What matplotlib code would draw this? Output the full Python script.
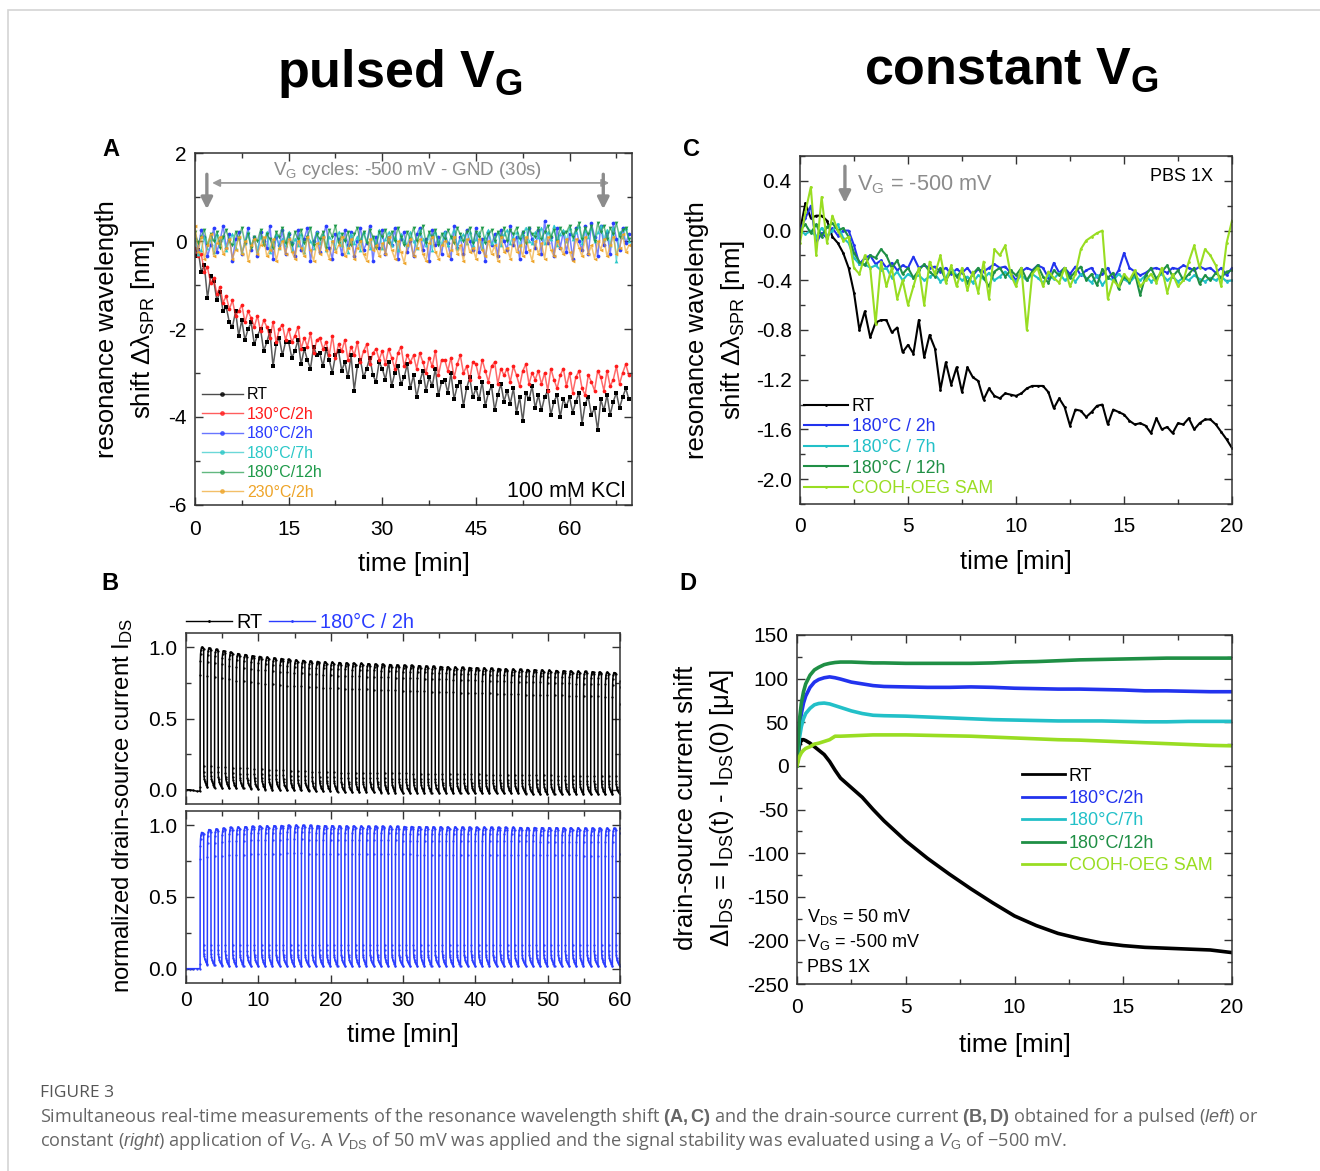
import numpy as np
import matplotlib
matplotlib.use('Agg')
import matplotlib.pyplot as plt
from matplotlib.lines import Line2D
from matplotlib.patches import Rectangle
from matplotlib.ticker import MultipleLocator, FormatStrFormatter

plt.rcParams['font.family'] = ['Liberation Sans', 'DejaVu Sans']
plt.rcParams['mathtext.fontset'] = 'custom'
plt.rcParams['mathtext.rm'] = 'Liberation Sans'
plt.rcParams['mathtext.it'] = 'Liberation Sans:italic'
plt.rcParams['mathtext.bf'] = 'Liberation Sans:bold'
plt.rcParams['axes.unicode_minus'] = False

# ---------------- panel A: SPR shift, pulsed VG (one value every 0.5 min) ----------------
a_time = np.arange(140) * 0.5
a_rt = [-0.35, -0.2, -0.7, -0.55, -1.3, -0.8, -0.9, -1.35, -1.15, -1.6,
        -1.5, -1.85, -1.95, -1.6, -2.15, -1.8, -2.25, -2.0, -1.85, -2.35,
        -2.15, -2.0, -2.5, -2.3, -2.05, -2.85, -2.35, -2.2, -2.6, -2.3,
        -2.3, -2.65, -2.5, -2.25, -2.8, -2.45, -2.7, -2.9, -2.4, -2.6,
        -2.55, -2.85, -2.45, -2.7, -3.0, -2.6, -2.5, -2.95, -2.75, -3.1,
        -2.6, -3.4, -2.85, -2.7, -3.1, -2.9, -2.65, -3.05, -3.2, -2.75,
        -2.9, -3.15, -2.75, -3.3, -3.0, -2.85, -3.25, -3.1, -2.8, -3.35,
        -3.05, -3.55, -3.2, -2.95, -3.4, -3.1, -3.3, -2.9, -3.5, -3.2,
        -3.15, -3.45, -3.0, -3.6, -3.3, -3.2, -3.75, -3.35, -3.1, -3.55,
        -3.35, -3.6, -3.2, -3.75, -3.45, -3.3, -3.85, -3.5, -3.25, -3.65,
        -3.4, -3.7, -3.35, -3.9, -3.55, -4.1, -3.45, -3.6, -3.3, -3.8,
        -3.5, -3.85, -3.55, -3.4, -3.95, -3.65, -3.5, -4.0, -3.6, -3.75,
        -3.55, -3.9, -3.65, -3.45, -4.15, -3.7, -3.55, -3.95, -3.8, -4.3,
        -3.6, -3.85, -3.5, -3.95, -3.65, -3.45, -3.8, -3.55, -3.35, -3.6]
a_130 = [-0.15, -0.35, -0.3, -0.7, -0.6, -0.95, -0.85, -1.2, -1.05, -1.4,
         -1.25, -1.55, -1.35, -1.7, -1.6, -1.45, -1.85, -1.6, -1.75, -1.95,
         -1.7, -2.05, -1.8, -1.95, -2.2, -1.85, -2.3, -2.0, -1.9, -2.25,
         -2.0, -2.3, -2.15, -1.95, -2.45, -2.2, -2.4, -2.1, -2.55, -2.25,
         -2.2, -2.45, -2.3, -2.6, -2.15, -2.65, -2.35, -2.5, -2.25, -2.7,
         -2.4, -2.6, -2.3, -2.75, -2.5, -2.35, -2.8, -2.55, -2.45, -2.7,
         -2.5, -2.8, -2.45, -2.65, -2.9, -2.55, -2.4, -2.85, -2.6, -2.75,
         -2.6, -2.9, -2.55, -2.75, -3.0, -2.65, -2.85, -2.5, -3.05, -2.7,
         -2.7, -2.95, -2.65, -3.1, -2.8, -2.6, -3.0, -2.85, -3.15, -2.75,
         -2.8, -3.1, -2.7, -2.95, -3.2, -2.85, -2.75, -3.25, -2.9, -3.05,
         -2.9, -3.2, -2.85, -3.05, -3.3, -2.95, -2.8, -3.25, -3.0, -3.15,
         -2.95, -3.25, -3.0, -3.4, -2.9, -3.15, -3.35, -3.05, -2.9, -3.3,
         -3.0, -3.45, -3.1, -2.95, -3.35, -3.5, -3.05, -3.2, -3.4, -2.95,
         -3.1, -3.4, -2.95, -3.3, -3.15, -2.85, -3.25, -3.0, -2.8, -3.05]
a_180_2h = [0.05, -0.2, 0.25, 0.1, -0.35, -0.1, 0.3, -0.25, 0.0, 0.35,
            -0.15, 0.15, -0.45, 0.05, 0.2, -0.3, -0.05, 0.3, -0.2, 0.1,
            -0.35, 0.2, 0.0, -0.15, 0.35, -0.4, 0.1, -0.1, 0.25, -0.3,
            0.15, -0.05, -0.35, 0.25, -0.2, 0.05, 0.3, -0.45, 0.0, 0.2,
            -0.25, 0.1, 0.35, -0.15, -0.4, 0.15, 0.05, -0.3, 0.25, -0.1,
            0.2, -0.35, 0.0, 0.3, -0.2, -0.05, 0.35, -0.45, 0.1, -0.15,
            0.25, -0.3, 0.1, -0.1, 0.3, -0.4, 0.05, 0.2, -0.25, 0.0,
            -0.35, 0.15, 0.3, -0.2, 0.05, -0.45, 0.25, -0.1, 0.1, -0.3,
            0.2, -0.05, -0.4, 0.35, -0.15, 0.1, -0.3, 0.25, 0.0, -0.2,
            0.3, -0.25, 0.05, -0.45, 0.2, -0.1, 0.15, -0.35, 0.25, 0.0,
            -0.2, 0.35, -0.1, 0.1, -0.4, 0.2, -0.25, 0.3, 0.05, -0.15,
            0.25, -0.3, 0.45, -0.05, 0.1, -0.35, 0.3, -0.15, 0.2, -0.25,
            0.15, -0.4, 0.3, 0.0, -0.2, 0.35, -0.3, 0.4, 0.1, -0.35,
            0.35, -0.1, 0.2, -0.3, 0.4, 0.05, -0.2, 0.3, -0.05, 0.15]
a_180_7h = [0.05, -0.3, -0.2, 0.1, -0.15, 0.05, -0.25, 0.15, -0.05, 0.1,
            -0.2, 0.0, 0.15, -0.15, 0.1, -0.25, -0.05, 0.2, -0.1, 0.05,
            -0.2, 0.1, -0.05, 0.2, -0.25, 0.0, 0.15, -0.15, 0.05, -0.1,
            0.2, -0.2, 0.05, -0.1, 0.15, -0.25, 0.1, 0.0, -0.15, 0.2,
            -0.05, 0.15, -0.2, 0.1, 0.0, -0.15, 0.2, -0.1, 0.05, -0.25,
            0.15, -0.05, 0.1, -0.2, 0.2, 0.0, -0.15, 0.1, -0.1, 0.25,
            -0.15, 0.05, 0.2, -0.1, 0.1, -0.2, 0.15, 0.0, -0.1, 0.2,
            0.0, -0.15, 0.25, 0.05, -0.1, 0.15, -0.2, 0.2, 0.0, -0.05,
            0.2, -0.1, 0.1, 0.25, -0.15, 0.05, 0.15, -0.05, 0.2, -0.1,
            0.05, 0.2, -0.15, 0.1, 0.25, -0.05, 0.0, 0.2, -0.1, 0.15,
            0.25, -0.05, 0.1, 0.2, -0.1, 0.15, 0.3, 0.0, -0.05, 0.2,
            0.1, 0.3, -0.05, 0.2, 0.05, 0.35, -0.1, 0.15, 0.25, 0.0,
            0.3, 0.05, 0.2, 0.35, -0.05, 0.25, 0.1, 0.3, 0.0, 0.2,
            0.35, 0.05, 0.25, -0.1, 0.3, -0.45, 0.2, 0.1, 0.3, 0.0]
a_180_12h = [0.2, -0.05, 0.1, 0.25, -0.1, 0.15, 0.0, 0.2, -0.15, 0.1,
             0.25, 0.0, -0.1, 0.2, 0.05, 0.3, -0.05, 0.15, -0.15, 0.1,
             0.0, 0.25, -0.1, 0.15, 0.05, -0.15, 0.2, 0.1, 0.3, -0.05,
             0.15, -0.1, 0.2, 0.05, 0.25, -0.05, 0.1, 0.3, -0.1, 0.15,
             0.05, 0.2, -0.15, 0.25, 0.1, 0.35, -0.05, 0.15, 0.0, 0.2,
             -0.1, 0.15, 0.3, 0.0, 0.2, -0.05, 0.25, 0.1, -0.15, 0.2,
             0.1, 0.25, -0.05, 0.2, 0.0, 0.3, 0.1, -0.1, 0.2, 0.05,
             0.3, 0.0, 0.15, 0.35, -0.05, 0.2, 0.1, 0.25, -0.1, 0.15,
             0.05, 0.25, 0.1, -0.05, 0.3, 0.15, 0.0, 0.2, 0.3, -0.05,
             0.2, 0.1, 0.3, -0.05, 0.15, 0.25, 0.0, 0.2, 0.1, 0.3,
             0.0, 0.25, 0.15, 0.3, 0.05, 0.2, -0.05, 0.3, 0.15, 0.1,
             0.3, 0.05, 0.2, 0.35, 0.1, 0.25, 0.0, 0.3, 0.15, 0.2,
             0.35, 0.1, 0.25, 0.4, 0.05, 0.3, 0.15, 0.35, 0.0, 0.4,
             0.2, 0.35, 0.05, 0.3, 0.15, 0.4, 0.1, 0.25, 0.3, 0.05]
a_230_2h = [0.35, -0.25, 0.1, -0.4, -0.1, 0.15, -0.35, -0.05, 0.1, -0.3,
            -0.15, 0.05, -0.4, -0.2, 0.1, -0.3, 0.0, -0.45, -0.1, 0.05,
            -0.3, -0.1, 0.1, -0.35, -0.2, 0.05, -0.45, -0.15, 0.0, -0.3,
            0.05, -0.25, -0.4, 0.0, -0.15, -0.35, 0.1, -0.2, -0.45, -0.05,
            -0.3, 0.1, -0.2, -0.4, 0.0, -0.25, -0.1, 0.1, -0.35, -0.15,
            0.05, -0.4, -0.15, 0.0, -0.3, -0.45, 0.05, -0.2, -0.1, -0.35,
            -0.05, -0.3, 0.1, -0.2, -0.4, 0.0, -0.25, -0.5, -0.1, 0.05,
            -0.35, -0.15, 0.05, -0.3, -0.45, -0.05, 0.1, -0.25, -0.4, -0.1,
            0.0, -0.35, -0.2, 0.1, -0.3, -0.1, -0.45, 0.05, -0.25, -0.15,
            -0.4, 0.05, -0.2, -0.35, 0.0, -0.3, -0.1, -0.45, 0.1, -0.25,
            -0.15, -0.4, 0.05, -0.25, -0.1, -0.35, 0.1, -0.2, -0.45, 0.0,
            -0.3, -0.05, -0.4, 0.1, -0.2, -0.35, 0.0, -0.15, -0.3, 0.05,
            -0.25, -0.45, 0.05, -0.15, -0.35, 0.1, -0.3, -0.1, -0.4, 0.0,
            -0.2, 0.05, -0.35, -0.1, 0.1, -0.3, -0.15, 0.15, -0.25, -0.1]
a_labels = ['RT', '130°C/2h', '180°C/2h', '180°C/7h', '180°C/12h', '230°C/2h']
a_colors = ['#000000', '#ff1a1a', '#2a3cff', '#2cc8c8', '#1f9a4a', '#eea428']
a_markers = ['s', 'o', 'o', '^', 'v', '<']

# ---------------- panel B: normalized IDS, one pulse per minute ----------------
b_first_pulse = 1.95
b_pre_t = [0.0, 0.5, 1.0, 1.5, 1.94]
b_pre_rt = [0.0, 0.0, -0.005, -0.01, -0.01]
b_pre_180 = [0.0, 0.0, 0.0, 0.0, 0.0]
# shape of one cycle (fraction between base and peak)
pulse_dt = [0.0, 0.01, 0.03, 0.06, 0.12, 0.2, 0.3, 0.4, 0.49,
            0.5, 0.51, 0.53, 0.57, 0.65, 0.75, 0.85, 0.99]
pulse_shape = [0.0, 0.80, 0.90, 0.95, 0.98, 1.0, 1.0, 0.995, 0.985,
               0.15, 0.11, 0.08, 0.06, 0.04, 0.025, 0.015, 0.0]
b_peak_rt = [1.0, 0.995, 0.985, 0.975, 0.965, 0.955, 0.948, 0.94, 0.935, 0.93,
             0.925, 0.92, 0.915, 0.91, 0.907, 0.903, 0.9, 0.897, 0.894, 0.892,
             0.89, 0.888, 0.886, 0.884, 0.882, 0.88, 0.878, 0.876, 0.874, 0.872,
             0.87, 0.868, 0.866, 0.864, 0.862, 0.86, 0.858, 0.857, 0.856, 0.854,
             0.852, 0.85, 0.848, 0.846, 0.845, 0.843, 0.842, 0.84, 0.838, 0.836,
             0.835, 0.833, 0.831, 0.83, 0.828, 0.826, 0.824, 0.822]
b_base_rt = [0.02, 0.02, 0.015, 0.015, 0.01, 0.01, 0.01, 0.005, 0.005, 0.0,
             0.0, 0.0, -0.005, -0.005, -0.005, -0.01, -0.01, -0.01, -0.01, -0.015,
             -0.015, -0.015, -0.015, -0.015, -0.015, -0.02, -0.02, -0.02, -0.02, -0.02,
             -0.02, -0.02, -0.02, -0.02, -0.02, -0.025, -0.025, -0.025, -0.025, -0.025,
             -0.025, -0.025, -0.025, -0.025, -0.025, -0.03, -0.03, -0.03, -0.03, -0.03,
             -0.03, -0.03, -0.03, -0.03, -0.03, -0.03, -0.03, -0.03]
b_peak_180 = [0.95, 0.97, 0.975, 0.98, 0.985, 0.988, 0.99, 0.992, 0.994, 0.996,
              0.997, 0.998, 1.0, 1.0, 1.0, 0.999, 0.998, 0.997, 0.997, 0.996,
              0.995, 0.995, 0.994, 0.994, 0.993, 0.993, 0.992, 0.992, 0.991, 0.991,
              0.99, 0.99, 0.989, 0.989, 0.988, 0.988, 0.987, 0.987, 0.986, 0.986,
              0.986, 0.985, 0.985, 0.985, 0.984, 0.984, 0.984, 0.983, 0.983, 0.983,
              0.982, 0.982, 0.982, 0.981, 0.981, 0.98, 0.98, 0.98]
b_base_180 = [0.03, 0.025, 0.025, 0.02, 0.02, 0.02, 0.02, 0.02, 0.02, 0.02,
              0.02, 0.02, 0.02, 0.02, 0.02, 0.02, 0.02, 0.02, 0.02, 0.02,
              0.02, 0.02, 0.02, 0.02, 0.02, 0.02, 0.02, 0.02, 0.02, 0.02,
              0.02, 0.02, 0.02, 0.02, 0.02, 0.02, 0.02, 0.02, 0.02, 0.02,
              0.02, 0.02, 0.02, 0.02, 0.02, 0.02, 0.02, 0.02, 0.02, 0.02,
              0.02, 0.02, 0.02, 0.02, 0.02, 0.02, 0.02, 0.02]
b_end_t = [59.96, 59.98, 60.0]
b_end_rt = [0.6, 0.72, 0.76]
b_end_180 = [0.8, 0.95, 0.98]

# ---------------- panel C: SPR shift, constant VG (one value every 0.25 min) ----------------
c_time = np.arange(81) * 0.25
c_rt = [0.0, 0.22, 0.1, 0.12, 0.12, 0.08, -0.05, -0.1, -0.18, -0.3,
        -0.5, -0.8, -0.65, -0.86, -0.74, -0.72, -0.72, -0.82, -0.78, -0.98,
        -0.92, -0.99, -0.72, -1.02, -0.84, -0.95, -1.28, -1.06, -1.24, -1.1,
        -1.3, -1.1, -1.18, -1.21, -1.36, -1.27, -1.33, -1.35, -1.31, -1.32,
        -1.33, -1.31, -1.27, -1.25, -1.25, -1.25, -1.3, -1.43, -1.35, -1.42,
        -1.57, -1.44, -1.45, -1.5, -1.46, -1.41, -1.4, -1.56, -1.44, -1.46,
        -1.48, -1.53, -1.56, -1.55, -1.57, -1.63, -1.51, -1.6, -1.58, -1.63,
        -1.55, -1.56, -1.51, -1.6, -1.55, -1.52, -1.52, -1.56, -1.62, -1.68,
        -1.75]
c_180_2h = [0.0, 0.1, 0.2, -0.1, -0.02, -0.06, 0.02, -0.04, 0.0, 0.0,
            -0.12, -0.27, -0.22, -0.2, -0.27, -0.24, -0.3, -0.26, -0.32, -0.28,
            -0.3, -0.21, -0.3, -0.28, -0.3, -0.29, -0.33, -0.3, -0.35, -0.31,
            -0.34, -0.3, -0.36, -0.31, -0.33, -0.3, -0.27, -0.3, -0.29, -0.34,
            -0.4, -0.33, -0.3, -0.32, -0.28, -0.3, -0.38, -0.26, -0.34, -0.3,
            -0.35, -0.29, -0.36, -0.32, -0.3, -0.37, -0.35, -0.3, -0.39, -0.32,
            -0.18, -0.3, -0.33, -0.36, -0.34, -0.31, -0.3, -0.32, -0.34, -0.3,
            -0.31, -0.28, -0.3, -0.32, -0.29, -0.31, -0.3, -0.34, -0.3, -0.36,
            -0.3]
c_180_7h = [0.0, -0.03, 0.0, -0.05, 0.02, -0.04, 0.0, 0.05, -0.06, -0.1,
            -0.22, -0.27, -0.27, -0.3, -0.28, -0.32, -0.3, -0.38, -0.33, -0.4,
            -0.35, -0.38, -0.36, -0.4, -0.37, -0.35, -0.41, -0.38, -0.3, -0.36,
            -0.4, -0.37, -0.42, -0.36, -0.39, -0.34, -0.4, -0.37, -0.33, -0.38,
            -0.41, -0.36, -0.4, -0.35, -0.38, -0.42, -0.36, -0.39, -0.34, -0.4,
            -0.37, -0.41, -0.35, -0.38, -0.42, -0.36, -0.44, -0.38, -0.4, -0.35,
            -0.39, -0.42, -0.37, -0.4, -0.36, -0.41, -0.38, -0.35, -0.4, -0.37,
            -0.41, -0.38, -0.4, -0.36, -0.39, -0.41, -0.38, -0.4, -0.37, -0.41,
            -0.4]
c_180_12h = [0.0, 0.05, -0.02, 0.05, -0.05, 0.03, 0.06, 0.0, 0.02, -0.05,
             -0.18, -0.25, -0.28, -0.2, -0.22, -0.15, -0.2, -0.3, -0.24, -0.35,
             -0.3, -0.38, -0.32, -0.27, -0.33, -0.37, -0.3, -0.4, -0.33, -0.37,
             -0.32, -0.42, -0.35, -0.3, -0.38, -0.45, -0.33, -0.3, -0.37, -0.32,
             -0.36, -0.3, -0.4, -0.33, -0.28, -0.37, -0.42, -0.32, -0.36, -0.3,
             -0.38, -0.33, -0.29, -0.4, -0.35, -0.44, -0.31, -0.38, -0.34, -0.47,
             -0.37, -0.41, -0.34, -0.52, -0.36, -0.3, -0.39, -0.33, -0.28, -0.37,
             -0.32, -0.4, -0.35, -0.3, -0.43, -0.36, -0.4, -0.34, -0.38, -0.33,
             -0.32]
c_sam = [-0.1, 0.15, 0.35, -0.2, 0.27, -0.1, 0.12, 0.0, -0.08, -0.05,
         -0.3, -0.35, -0.2, -0.3, -0.75, -0.25, -0.45, -0.3, -0.55, -0.4,
         -0.6, -0.45, -0.3, -0.6, -0.25, -0.35, -0.2, -0.42, -0.28, -0.45,
         -0.3, -0.48, -0.33, -0.5, -0.25, -0.55, -0.15, -0.2, -0.12, -0.35,
         -0.45, -0.3, -0.8, -0.35, -0.3, -0.45, -0.33, -0.38, -0.42, -0.3,
         -0.45, -0.35, -0.15, -0.08, -0.05, -0.02, 0.0, -0.55, -0.4, -0.45,
         -0.35, -0.4, -0.32, -0.45, -0.4, -0.35, -0.42, -0.3, -0.5, -0.35,
         -0.45, -0.4, -0.25, -0.12, -0.3, -0.15, -0.2, -0.28, -0.45, -0.1,
         0.08]
c_labels = ['RT', '180°C / 2h', '180°C / 7h', '180°C / 12h', 'COOH-OEG SAM']
cd_colors = ['#000000', '#2233ee', '#22c0c8', '#1f8f45', '#99dd22']

# ---------------- panel D: drain-source current shift, constant VG ----------------
d_time = [0, 0.1, 0.2, 0.3, 0.4, 0.6, 0.8, 1.0, 1.25, 1.5, 1.75, 2.0, 2.5, 3.0, 3.5, 4.0,
          5, 6, 7, 8, 9, 10, 11, 12, 13, 14, 15, 16, 17, 18, 19, 20]
d_rt = [0, 22, 30, 30, 29, 26, 22, 18, 13, 5, -5, -14, -25, -36, -50, -63,
        -86, -106, -124, -141, -157, -172, -183, -192, -198, -203, -206, -208, -209, -210, -211, -214]
d_180_2h = [0, 40, 60, 72, 80, 90, 96, 99, 101, 102, 101, 99.5, 96, 94, 92, 91,
            90.5, 90, 90, 90.5, 90, 89, 88.5, 88, 88, 87.5, 87, 86, 86, 85.5, 85, 85]
d_180_7h = [0, 30, 45, 54, 60, 66, 70, 71.5, 72, 71, 69, 67, 63, 60, 58, 57.5,
            57, 56, 55, 54, 53, 52.5, 52, 51.5, 51.5, 51.5, 51, 50.5, 50.5, 51, 51, 51]
d_180_12h = [0, 50, 72, 85, 94, 104, 110, 113, 116, 117.5, 118.5, 119, 119, 118.5, 118, 118,
             117.5, 117.5, 117.5, 117.5, 118, 119, 119.5, 120.5, 121.5, 122, 122.5, 123, 123.5, 123.5, 123.5, 123.5]
d_sam = [0, 10, 15, 18, 20, 22, 25, 26, 28, 30, 34, 34, 34.5, 35, 35.5, 35.5,
         35.5, 35, 34.5, 34, 33, 32, 31, 30, 29.5, 28.5, 27.5, 26.5, 25.5, 24.5, 23.5, 23]
d_labels = ['RT', '180°C/2h', '180°C/7h', '180°C/12h', 'COOH-OEG SAM']

GRAY = '#8c8c8c'
W, H = 1320, 1171
fig = plt.figure(figsize=(W / 100, H / 100), dpi=100)


def add_ax(l, t, r, b):
    return fig.add_axes([l / W, 1 - b / H, (r - l) / W, (b - t) / H])


def style(ax, xmaj, xmin, ymaj, ymin, xpad=6):
    ax.xaxis.set_major_locator(MultipleLocator(xmaj))
    ax.xaxis.set_minor_locator(MultipleLocator(xmin))
    ax.yaxis.set_major_locator(MultipleLocator(ymaj))
    ax.yaxis.set_minor_locator(MultipleLocator(ymin))
    ax.tick_params(which='both', direction='in', top=True, right=True,
                   labelsize=15, width=1.0, color='#333333', pad=6)
    ax.tick_params(axis='x', which='both', pad=xpad)
    ax.tick_params(which='major', length=6)
    ax.tick_params(which='minor', length=3.5)
    for s in ax.spines.values():
        s.set_linewidth(1.1)
        s.set_color('#333333')


def ftext(x, y, s, **kw):
    fig.text(x / W, 1 - y / H, s, **kw)


def pulse_train(pre_t, pre_y, peaks, bases, end_t, end_y):
    t = list(pre_t)
    y = list(pre_y)
    for k in range(len(peaks)):
        t0 = b_first_pulse + k
        for dt, f in zip(pulse_dt, pulse_shape):
            t.append(t0 + dt)
            y.append(bases[k] + f * (peaks[k] - bases[k]))
    return t + end_t, y + end_y


# ---------------- A ----------------
axA = add_ax(195, 153, 632, 505)
series_a = [a_rt, a_130, a_180_2h, a_180_7h, a_180_12h, a_230_2h]
handles = []
for ys, c, m, lab in zip(series_a, a_colors, a_markers, a_labels):
    axA.plot(a_time, ys, color=c, lw=1.1, alpha=0.65)
    axA.plot(a_time, ys, ls='none', marker=m, ms=2.7, mew=0, color=c)
    handles.append(Line2D([], [], color=c, lw=1.0, alpha=0.7, marker='o', ms=2.5,
                          mfc=c, mec=c, label=lab))
axA.set_xlim(0, 70)
axA.set_ylim(-6, 2)
style(axA, 15, 7.5, 2, 1, xpad=10.5)
leg = axA.legend(handles=handles, loc='lower left', bbox_to_anchor=(0.015, 0.015),
                 frameon=False, fontsize=11.5, handlelength=2.6, handletextpad=0.25,
                 labelspacing=0.28, borderpad=0, borderaxespad=0)
for txt, c in zip(leg.get_texts(), a_colors):
    txt.set_color(c)
axA.text(0.984, 0.022, '100 mM KCl', transform=axA.transAxes, ha='right',
         va='baseline', fontsize=15.5)
axA.text(34, 1.61, 'V$_{\\mathrm{G}}$ cycles: -500 mV - GND (30s)', ha='center',
         va='center', fontsize=13.5, color=GRAY)
axA.annotate('', xy=(66.8, 1.32), xytext=(2.3, 1.32),
             arrowprops=dict(arrowstyle='<|-|>', color='#999999', lw=1.3, mutation_scale=11))
for xa in (1.9, 65.4):
    axA.annotate('', xy=(xa, 0.66), xytext=(xa, 1.58),
                 arrowprops=dict(arrowstyle='-|>', color=GRAY, lw=2.4, mutation_scale=17))
axA.set_xlabel('time [min]', fontsize=18.5, labelpad=10)

# ---------------- B ----------------
axB1 = add_ax(186, 633, 620, 804)
axB2 = add_ax(186, 811, 620, 983)
t_rt, y_rt = pulse_train(b_pre_t, b_pre_rt, b_peak_rt, b_base_rt, b_end_t, b_end_rt)
t_bl, y_bl = pulse_train(b_pre_t, b_pre_180, b_peak_180, b_base_180, b_end_t, b_end_180)
axB1.plot(t_rt, y_rt, color='black', lw=1.1, marker='.', ms=1.2)
axB2.plot(t_bl, y_bl, color='#2a3cff', lw=1.1, marker='.', ms=1.2)
for ax in (axB1, axB2):
    ax.set_xlim(0, 60)
    ax.set_ylim(-0.1, 1.1)
    style(ax, 10, 5, 0.5, 0.25)
    ax.yaxis.set_major_formatter(FormatStrFormatter('%.1f'))
axB1.tick_params(labelbottom=False)
axB2.set_xlabel('time [min]', fontsize=18.5, labelpad=9)
hb = [Line2D([], [], color='black', lw=1.0, marker='.', ms=2, label='RT'),
      Line2D([], [], color='#2a3cff', lw=1.0, marker='.', ms=2, label='180°C / 2h')]
legB = axB1.legend(handles=hb, loc='lower left', bbox_to_anchor=(0.0, 1.005), ncol=2,
                   frameon=False, fontsize=14.3, handlelength=2.3, handletextpad=0.25,
                   columnspacing=0.3, borderpad=0, borderaxespad=0)
legB.get_texts()[1].set_color('#2a3cff')

# ---------------- C ----------------
axC = add_ax(800, 156, 1232, 504)
for ys, c, lab in zip([c_rt, c_180_2h, c_180_7h, c_180_12h, c_sam], cd_colors, c_labels):
    axC.plot(c_time, ys, color=c, lw=1.5, marker='.', ms=2, label=lab)
axC.set_xlim(0, 20)
axC.set_ylim(-2.2, 0.6)
style(axC, 5, 2.5, 0.4, 0.2, xpad=9.5)
axC.yaxis.set_major_formatter(FormatStrFormatter('%.1f'))
legC = axC.legend(loc='lower left', bbox_to_anchor=(0.01, 0.02), frameon=False,
                  fontsize=12.7, handlelength=2.5, handletextpad=0.2, labelspacing=0.2,
                  borderpad=0, borderaxespad=0)
for txt, c in zip(legC.get_texts(), cd_colors):
    txt.set_color(c)
axC.text(0.956, 0.942, 'PBS 1X', transform=axC.transAxes, ha='right', va='center', fontsize=13)
axC.annotate('', xy=(2.08, 0.2), xytext=(2.08, 0.54),
             arrowprops=dict(arrowstyle='-|>', color=GRAY, lw=2.4, mutation_scale=17))
axC.text(2.62, 0.37, 'V$_{\\mathrm{G}}$ = -500 mV', ha='left', va='center',
         fontsize=15.7, color=GRAY)
axC.set_xlabel('time [min]', fontsize=18.5, labelpad=10)

# ---------------- D ----------------
axD = add_ax(797, 635, 1232, 984)
for ys, c, lab in zip([d_rt, d_180_2h, d_180_7h, d_180_12h, d_sam], cd_colors, d_labels):
    axD.plot(d_time, ys, color=c, lw=2.6, label=lab)
axD.set_xlim(0, 20)
axD.set_ylim(-250, 150)
style(axD, 5, 2.5, 50, 25, xpad=10)
legD = axD.legend(loc='upper left', bbox_to_anchor=(0.517, 0.62), frameon=False,
                  fontsize=13, handlelength=2.4, handletextpad=0.2, labelspacing=0.3,
                  borderpad=0, borderaxespad=0)
for line in legD.get_lines():
    line.set_linewidth(2.0)
for txt, c in zip(legD.get_texts(), cd_colors):
    txt.set_color(c)
axD.text(0.023, 0.192, 'V$_{\\mathrm{DS}}$ = 50 mV', transform=axD.transAxes, va='center', fontsize=13)
axD.text(0.023, 0.12, 'V$_{\\mathrm{G}}$ = -500 mV', transform=axD.transAxes, va='center', fontsize=13)
axD.text(0.023, 0.046, 'PBS 1X', transform=axD.transAxes, va='center', fontsize=13)
axD.set_xlabel('time [min]', fontsize=18.5, labelpad=11.5)

# ---------------- y labels, titles, panel letters ----------------
ftext(107, 329, 'resonance wavelength', rotation=90, ha='center', va='center', fontsize=18.5)
ftext(143, 329, 'shift Δλ$_{\\mathrm{SPR}}$ [nm]', rotation=90, ha='center', va='center', fontsize=18.5)
ftext(697, 330, 'resonance wavelength', rotation=90, ha='center', va='center', fontsize=18.5)
ftext(733, 330, 'shift Δλ$_{\\mathrm{SPR}}$ [nm]', rotation=90, ha='center', va='center', fontsize=18.5)
ftext(123, 806, 'normalized drain-source current I$_{\\mathrm{DS}}$', rotation=90,
      ha='center', va='center', fontsize=17.2)
ftext(686, 808, 'drain-source current shift', rotation=90, ha='center', va='center', fontsize=18.5)
ftext(722, 808, 'ΔI$_{\\mathrm{DS}}$ = I$_{\\mathrm{DS}}$(t) - I$_{\\mathrm{DS}}$(0) [μA]', rotation=90,
      ha='center', va='center', fontsize=18.5)

ftext(400, 73, 'pulsed V$_{\\mathbf{G}}$', ha='center', va='center', fontsize=37.5, weight='bold')
ftext(1012, 70, 'constant V$_{\\mathbf{G}}$', ha='center', va='center', fontsize=37.5, weight='bold')
for lt, x, y in [('A', 111, 150), ('B', 110, 583), ('C', 691, 150), ('D', 688, 583)]:
    ftext(x, y, lt, ha='center', va='center', fontsize=17, weight='bold')

# ---------------- caption ----------------
fig.add_artist(Rectangle((8 / W, -0.05), 1.2, 1.05 - 10 / H, transform=fig.transFigure,
                         fill=False, edgecolor='#d4d4d4', lw=1.2))
ftext(40, 1093, 'FIGURE 3', ha='left', va='center', fontsize=12.5, color='#555555', family='Open Sans')
cap1 = ('Simultaneous real-time measurements of the resonance wavelength shift '
        '$\\mathbf{(A,C)}$ and the drain-source current $\\mathbf{(B,D)}$ obtained for a '
        'pulsed ($\\mathit{left}$) or')
cap2 = ('constant ($\\mathit{right}$) application of $\\mathit{V}_{\\mathrm{G}}$. A '
        '$\\mathit{V}_{\\mathrm{DS}}$ of 50 mV was applied and the signal stability was '
        'evaluated using a $\\mathit{V}_{\\mathrm{G}}$ of −500 mV.')
ftext(40, 1117, cap1, ha='left', va='center', fontsize=13.1, color='#666666', family='Open Sans')
ftext(40, 1141, cap2, ha='left', va='center', fontsize=13.1, color='#666666', family='Open Sans')

fig.savefig('out.png', dpi=100)
